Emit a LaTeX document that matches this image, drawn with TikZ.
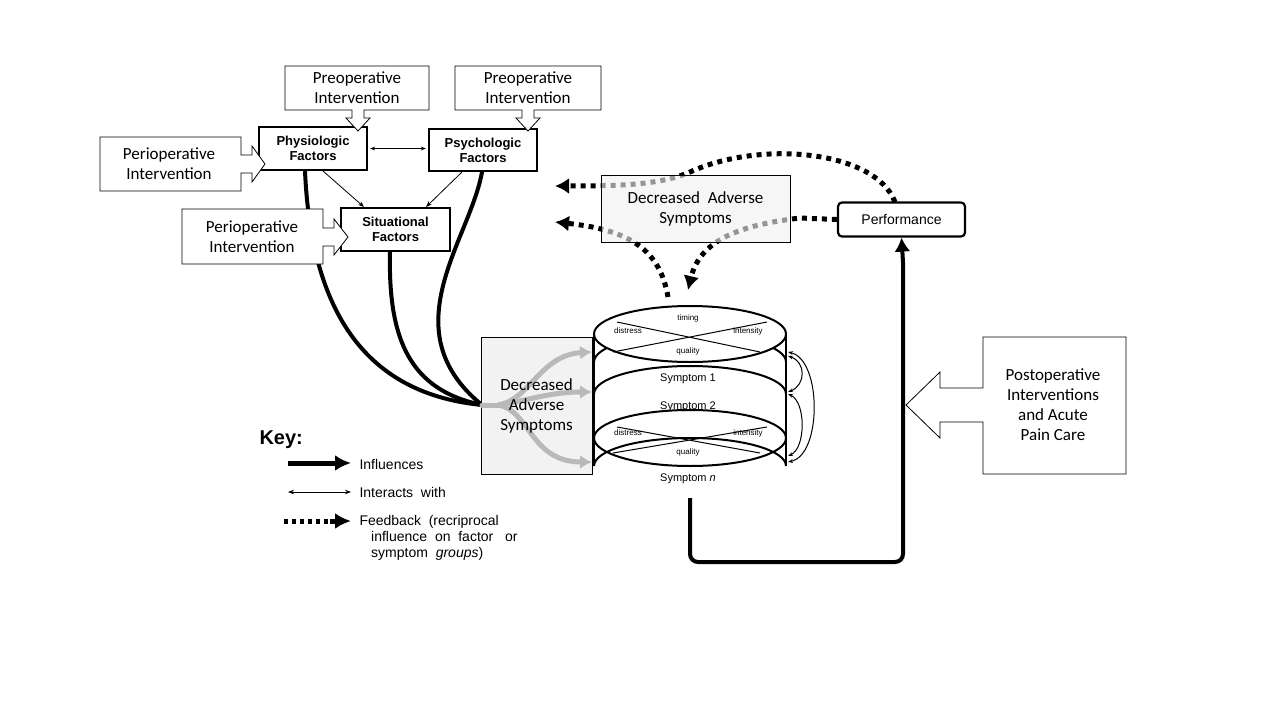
\documentclass[tikz,border=0pt]{standalone}
\usepackage{fontspec}
\setmainfont{Carlito}
\newfontfamily\arial{Liberation Sans}
\usetikzlibrary{arrows.meta}
\begin{document}
\begin{tikzpicture}[x=1pt,y=-1pt,
  callout/.style={draw=black,fill=white,line width=0.8pt},
  ctext/.style={font=\fontsize{17}{20}\selectfont,align=center,inner sep=0pt},
  factor/.style={draw,line width=2.2pt,fill=white,font=\arial\bfseries\fontsize{13}{15}\selectfont,align=center,inner sep=0pt},
  infl/.style={line width=4pt,line cap=round},
  fb/.style={line width=5pt,dash pattern=on 5pt off 5pt},
  tiny/.style={font=\arial\fontsize{8}{9}\selectfont},
  symt/.style={font=\arial\fontsize{11}{12}\selectfont},
  keyt/.style={font=\arial\fontsize{14}{16}\selectfont,anchor=west,align=left}]
\useasboundingbox (0,0) rectangle (1280,720);
\fill[white] (0,0) rectangle (1280,720);

% thick influence curves
\coordinate (J) at (482,405);
\node[factor,minimum width=108pt,minimum height=43pt] (phys) at (313,148.5) {Physiologic\\Factors};
\node[factor,minimum width=108pt,minimum height=42pt] (psych) at (483,150) {Psychologic\\Factors};
\node[factor,minimum width=109pt,minimum height=43pt] (sit) at (395.5,229.5) {Situational\\Factors};
\draw[infl] (305,171) .. controls (312,330) and (380,395) .. (J);
\draw[infl] (390,252) .. controls (388,340) and (410,390) .. (J);
\draw[infl] (482,172) .. controls (470,240) and (390,330) .. (J);
\node[factor,minimum width=108pt,minimum height=43pt] at (phys) {Physiologic\\Factors};
\node[factor,minimum width=108pt,minimum height=42pt] at (psych) {Psychologic\\Factors};
\node[factor,minimum width=109pt,minimum height=43pt] at (sit) {Situational\\Factors};
\draw[{Stealth[length=5pt]}-{Stealth[length=5pt]},line width=0.8pt] (phys.east) ++(2,0) -- ([xshift=-2pt]psych.west |- phys.east);
\draw[-{Stealth[length=6pt]},line width=0.8pt] (323,171) -- (364,207);
\draw[-{Stealth[length=6pt]},line width=0.8pt] (462,172) -- (426,207);

% callouts
\draw[callout] (285,66)--(429,66)--(429,110)--(364,110)--(364,118)--(370,118)--(358,131)--(346,118)--(352,118)--(352,110)--(285,110)--cycle;
\node[ctext] (pre1) at (357,88) {Preoperative\\Intervention};
\draw[callout] (455,66)--(601,66)--(601,110)--(534,110)--(534,118)--(540,118)--(528,131)--(516,118)--(522,118)--(522,110)--(455,110)--cycle;
\node[ctext] (pre2) at (528,88) {Preoperative\\Intervention};
\draw[callout] (100,137)--(241,137)--(241,155)--(252,155)--(252,146)--(265,164)--(252,182)--(252,173)--(241,173)--(241,191)--(100,191)--cycle;
\node[ctext] (peri1) at (169,164) {Perioperative\\Intervention};
\draw[callout] (182,209)--(323,209)--(323,228)--(334,228)--(334,219)--(348,237)--(334,255)--(334,246)--(323,246)--(323,264)--(182,264)--cycle;
\node[ctext] (peri2) at (252,237) {Perioperative\\Intervention};
\draw[callout] (983,337)--(1126,337)--(1126,474)--(983,474)--(983,422)--(940,422)--(940,438)--(906,405)--(940,372)--(940,388)--(983,388)--cycle;
\node[ctext] (post) at (1053,405) {Postoperative\\Interventions\\and Acute\\Pain Care};

% performance
\node[draw,line width=2.2pt,rounded corners=4pt,minimum width=127pt,minimum height=34pt,font=\arial\fontsize{14}{16}\selectfont,fill=white] (perf) at (901.5,219.5) {Performance};
\coordinate (stackbot) at (690,498);
\draw[line width=4pt,rounded corners=8pt] (stackbot) -- (690,562) -- (903,562) -- (903,262);
\draw[-{Latex[length=14pt,width=16pt]},line width=4pt] (903,262) -- (perf.south);

% feedback
\draw[fb,-{Latex[length=14pt,width=16pt]}] (895,202) .. controls (875,150) and (760,140) .. (690,172) .. controls (660,185) and (620,186) .. (555,186);
\draw[fb,-{Latex[length=14pt,width=16pt]}] (perf.west) -- (800,218) .. controls (740,225) and (700,240) .. (688,290);
\draw[fb,-{Latex[length=14pt,width=16pt]}] (668,297) .. controls (660,250) and (630,230) .. (555,222);
\node[draw=black,fill=gray!10,fill opacity=0.62,text opacity=1,line width=0.8pt,minimum width=189pt,minimum height=67pt,ctext] (das1) at (695.5,208.5) {Decreased\ \ Adverse\\Symptoms};

% symptom stack
\begin{scope}[line width=2pt]
\fill[white] (594,334) rectangle (786,466);
\fill[white] (690,466) ellipse (96 and 28);
\draw (594,334) -- (594,466) (786,334) -- (786,466);
\draw (594,362) arc[start angle=180,end angle=360,x radius=96,y radius=28];
\draw (594,394) arc[start angle=180,end angle=360,x radius=96,y radius=28];
\draw[dotted,line width=1pt] (594,396) -- (594,430) (786,396) -- (786,430);
\draw[fill=white] (690,438) ellipse (96 and 28);
\draw (594,466) arc[start angle=180,end angle=360,x radius=96,y radius=28];
\draw[fill=white] (690,334) ellipse (96 and 28);
\end{scope}
\draw[line width=1pt] (617,322) -- (760,352) (613,352) -- (767,322);
\draw[line width=1pt] (617,427) -- (760,453) (613,453) -- (767,427);
\node[tiny] (t1) at (688,318) {timing};
\node[tiny] at (628,331) {distress};
\node[tiny] at (748,331) {intensity};
\node[tiny] at (688,351) {quality};
\node[symt] (s1) at (688,379) {Symptom 1};
\node[symt] (s2) at (688,407) {Symptom 2};
\node[tiny] at (628,433) {distress};
\node[tiny] at (748,433) {intensity};
\node[tiny] at (688,452) {quality};
\node[symt] (sn) at (688,479) {Symptom \textit{n}};
% interaction arrows
\draw[{Stealth[length=5pt]}-{Stealth[length=5pt]},line width=1pt] (788,352) .. controls (822,360) and (822,455) .. (788,462);
\draw[{Stealth[length=5pt]}-{Stealth[length=5pt]},line width=1pt] (788,356) .. controls (806,362) and (806,385) .. (788,392);
\draw[{Stealth[length=5pt]}-{Stealth[length=5pt]},line width=1pt] (788,394) .. controls (806,402) and (806,448) .. (788,456);

% left gray box
\node[draw=black,fill=gray!10,line width=0.8pt,minimum width=111pt,minimum height=137pt] (das2) at (536.5,405.5) {};
\draw[infl,gray!55,line width=5pt] (J) -- (500,405);
\draw[gray!55,line width=5pt,-{Latex[length=12pt,width=14pt]}] (498,405) .. controls (530,400) and (540,355) .. (592,352);
\draw[gray!55,line width=5pt,-{Latex[length=12pt,width=14pt]}] (498,405) .. controls (530,400) and (550,392) .. (592,392);
\draw[gray!55,line width=5pt,-{Latex[length=12pt,width=14pt]}] (498,405) .. controls (530,410) and (530,462) .. (592,462);
\node[ctext] at (das2) {Decreased\\Adverse\\Symptoms};

% key
\node[font=\arial\bfseries\fontsize{20}{22}\selectfont,anchor=west] (key) at (256,440) {Key:};
\coordinate (k1a) at (288,463); \coordinate (k1b) at (351,463);
\coordinate (k2a) at (288,492); \coordinate (k2b) at (351,492);
\coordinate (k3a) at (284,521); \coordinate (k3b) at (351,521);
\draw[line width=5pt,-{Latex[length=16pt,width=16pt]}] (k1a) -- (k1b);
\draw[line width=0.8pt,{Stealth[length=6pt]}-{Stealth[length=6pt]}] (k2a) -- (k2b);
\draw[line width=5pt,dash pattern=on 4pt off 4pt] (k3a) -- (332,521);
\draw[line width=5pt,-{Latex[length=16pt,width=16pt]}] (330,521) -- (k3b);
\node[keyt] at (356,464) {Influences};
\node[keyt] at (356,492) {Interacts\ \ with};
\node[keyt,anchor=north west] at (356,512) {Feedback\ \ (recriprocal\\\ \ \ influence\ \ on\ \ factor\ \ \ or\\\ \ \ symptom\ \ \textit{groups})};
\end{tikzpicture}
\end{document}
